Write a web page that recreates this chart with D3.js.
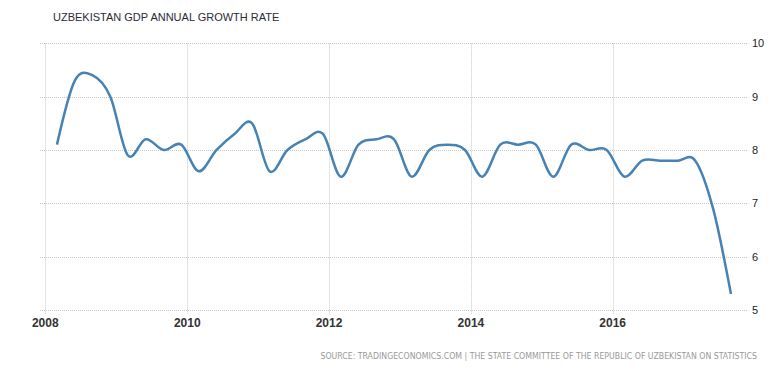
<!DOCTYPE html>
<html>
<head>
<meta charset="utf-8">
<script src="https://cdn.jsdelivr.net/npm/d3@7"></script>
<style>
  html, body { margin: 0; padding: 0; background: #fff; }
</style>
</head>
<body>
<div id="container"></div>
<script>
const width = 784; // Chart's dimensions
const height = 370;

const chartTitle = "UZBEKISTAN GDP ANNUAL GROWTH RATE";
const sourceText = "SOURCE: TRADINGECONOMICS.COM | THE STATE COMMITTEE OF THE REPUBLIC OF UZBEKISTAN ON STATISTICS";

// quarterly readings, year to date
const quarters = [
  "2008-03", "2008-06", "2008-09", "2008-12",
  "2009-03", "2009-06", "2009-09", "2009-12",
  "2010-03", "2010-06", "2010-09", "2010-12",
  "2011-03", "2011-06", "2011-09", "2011-12",
  "2012-03", "2012-06", "2012-09", "2012-12",
  "2013-03", "2013-06", "2013-09", "2013-12",
  "2014-03", "2014-06", "2014-09", "2014-12",
  "2015-03", "2015-06", "2015-09", "2015-12",
  "2016-03", "2016-06", "2016-09", "2016-12",
  "2017-03", "2017-06", "2017-09"
];
const growthRate = [
  8.1, 9.3, 9.4, 9.0,
  7.9, 8.2, 8.0, 8.1,
  7.6, 8.0, 8.3, 8.5,
  7.6, 8.0, 8.2, 8.3,
  7.5, 8.1, 8.2, 8.2,
  7.5, 8.0, 8.1, 8.0,
  7.5, 8.1, 8.1, 8.1,
  7.5, 8.1, 8.0, 8.0,
  7.5, 7.8, 7.8, 7.8,
  7.8, 6.9, 5.3
];
const yTicks = [5, 6, 7, 8, 9, 10];
const xTickYears = [2008, 2010, 2012, 2014, 2016];

const parseMonth = d3.timeParse("%Y-%m");
const data = quarters.map((q, i) => ({ date: parseMonth(q), value: growthRate[i] }));

const gridLeft = 40;
const gridRight = 748;

const x = d3.scaleTime()
  .domain([new Date(2008, 0, 1), new Date(2016, 0, 1)])
  .range([45.3, 612.7]);

const y = d3.scaleLinear()
  .domain([5, 10])
  .range([310, 43.3]);

const svg = d3.select("div#container").append("svg")
  .attr("width", width)
  .attr("height", height)
  .attr("viewBox", [0, 0, width, height]);

svg.append("text")
  .attr("x", 53)
  .attr("y", 20.7)
  .attr("font-family", "Liberation Sans, Arial, sans-serif")
  .attr("font-size", 11)
  .attr("fill", "#2a2a35")
  .text(chartTitle);

// horizontal grid + right labels
svg.append("g")
  .selectAll("line")
  .data(yTicks)
  .join("line")
  .attr("x1", gridLeft)
  .attr("x2", gridRight)
  .attr("y1", d => Math.round(y(d)) + 0.5)
  .attr("y2", d => Math.round(y(d)) + 0.5)
  .attr("stroke", "#c8c8c8")
  .attr("stroke-dasharray", "1,1");

svg.append("g")
  .selectAll("text")
  .data(yTicks)
  .join("text")
  .attr("x", 752)
  .attr("y", d => y(d) + 4)
  .attr("font-family", "Liberation Sans, Arial, sans-serif")
  .attr("font-size", 11)
  .attr("fill", "#222")
  .text(d => d);

// vertical grid + bottom labels
const xYears = xTickYears.map(yr => new Date(yr, 0, 1));
svg.append("g")
  .selectAll("line")
  .data(xYears)
  .join("line")
  .attr("x1", d => Math.round(x(d)) + 0.5)
  .attr("x2", d => Math.round(x(d)) + 0.5)
  .attr("y1", y(10))
  .attr("y2", y(5) + 4)
  .attr("stroke", "#c8c8c8")
  .attr("stroke-dasharray", "1,1");

svg.append("g")
  .selectAll("text")
  .data(xYears)
  .join("text")
  .attr("x", d => x(d))
  .attr("y", 326.7)
  .attr("text-anchor", "middle")
  .attr("font-family", "Liberation Sans, Arial, sans-serif")
  .attr("font-size", 12)
  .attr("font-weight", "bold")
  .attr("fill", "#333")
  .text(d => d3.timeFormat("%Y")(d));

// the series
const line = d3.line()
  .curve(d3.curveCardinal)
  .x(d => x(d.date))
  .y(d => y(d.value));

svg.append("path")
  .datum(data)
  .attr("d", line)
  .attr("fill", "none")
  .attr("stroke", "#4682b4")
  .attr("stroke-width", 2.5)
  .attr("stroke-linejoin", "round");

svg.append("text")
  .attr("x", 757)
  .attr("y", 358.7)
  .attr("text-anchor", "end")
  .attr("font-family", "DejaVu Sans Condensed, sans-serif")
  .attr("font-size", 8.7)
  .attr("fill", "#999")
  .text(sourceText);
</script>
</body>
</html>
